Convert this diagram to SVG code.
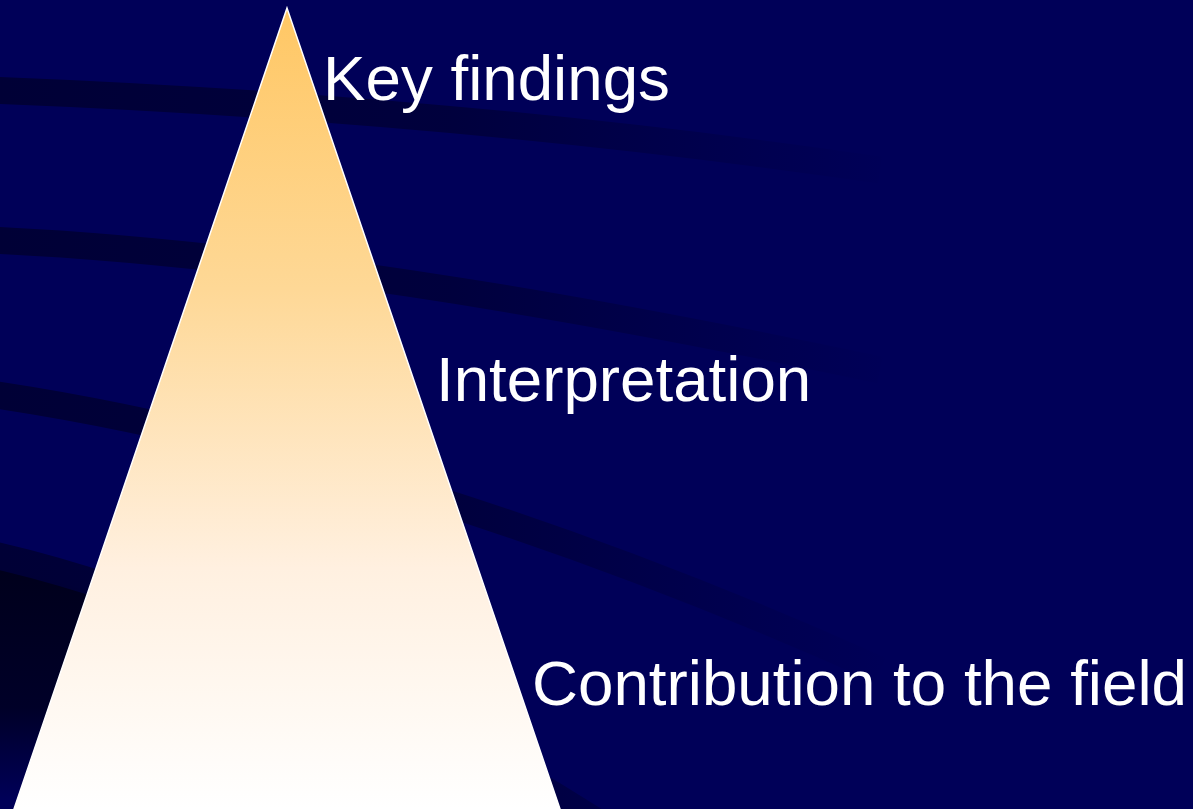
<svg xmlns="http://www.w3.org/2000/svg" width="1193" height="809" viewBox="0 0 1193 809">
  <style>
    .label { font-family: "Liberation Sans", Arial, sans-serif; font-size: 63.7px; fill: #ffffff; }
    .band { fill: none; stroke: url(#bandFade); stroke-width: 27; }
  </style>
  <defs>
    <!-- dark arcs fade out toward the right -->
    <linearGradient id="bandFade" gradientUnits="userSpaceOnUse" x1="0" y1="0" x2="900" y2="0">
      <stop offset="0" stop-color="#000036" stop-opacity="1"/>
      <stop offset="0.5" stop-color="#000038" stop-opacity="0.85"/>
      <stop offset="1" stop-color="#00003c" stop-opacity="0"/>
    </linearGradient>
    <linearGradient id="shadow" gradientUnits="userSpaceOnUse" x1="0" y1="570" x2="0" y2="800">
      <stop offset="0" stop-color="#00001c"/>
      <stop offset="0.6" stop-color="#000028"/>
      <stop offset="1" stop-color="#000058"/>
    </linearGradient>
    <linearGradient id="pyramidFill" gradientUnits="userSpaceOnUse" x1="0" y1="8" x2="0" y2="809">
      <stop offset="0" stop-color="#ffc764"/>
      <stop offset="0.35" stop-color="#fed896"/>
      <stop offset="0.7" stop-color="#fff0e0"/>
      <stop offset="1" stop-color="#ffffff"/>
    </linearGradient>
  </defs>

  <!-- background -->
  <rect x="0" y="0" width="1193" height="809" fill="#000058"/>

  <!-- curved background bands -->
  <g id="bands">
    <path d="M 0 569 C 40 577 80 588 130 603 L 130 809 L 0 809 Z" fill="url(#shadow)"/>
    <path class="band" d="M -10 90 C 250 100 550 122 880 170"/>
    <path class="band" d="M -10 240 C 250 252 550 300 880 370"/>
    <path class="band" d="M -10 394 C 200 425 500 500 880 670"/>
    <path class="band" d="M -10 554 C 150 590 400 690 640 850"/>
  </g>

  <!-- pyramid -->
  <g id="pyramid">
    <polygon points="287,8 14,809 560,809" fill="url(#pyramidFill)" stroke="#ffffff" stroke-width="1.5" stroke-linejoin="miter"/>
  </g>

  <!-- level labels -->
  <g id="label-key-findings">
    <text class="label" x="323" y="100">Key findings</text>
  </g>
  <g id="label-interpretation">
    <text class="label" x="436" y="401">Interpretation</text>
  </g>
  <g id="label-contribution">
    <text class="label" x="532" y="705">Contribution to the field</text>
  </g>
</svg>
